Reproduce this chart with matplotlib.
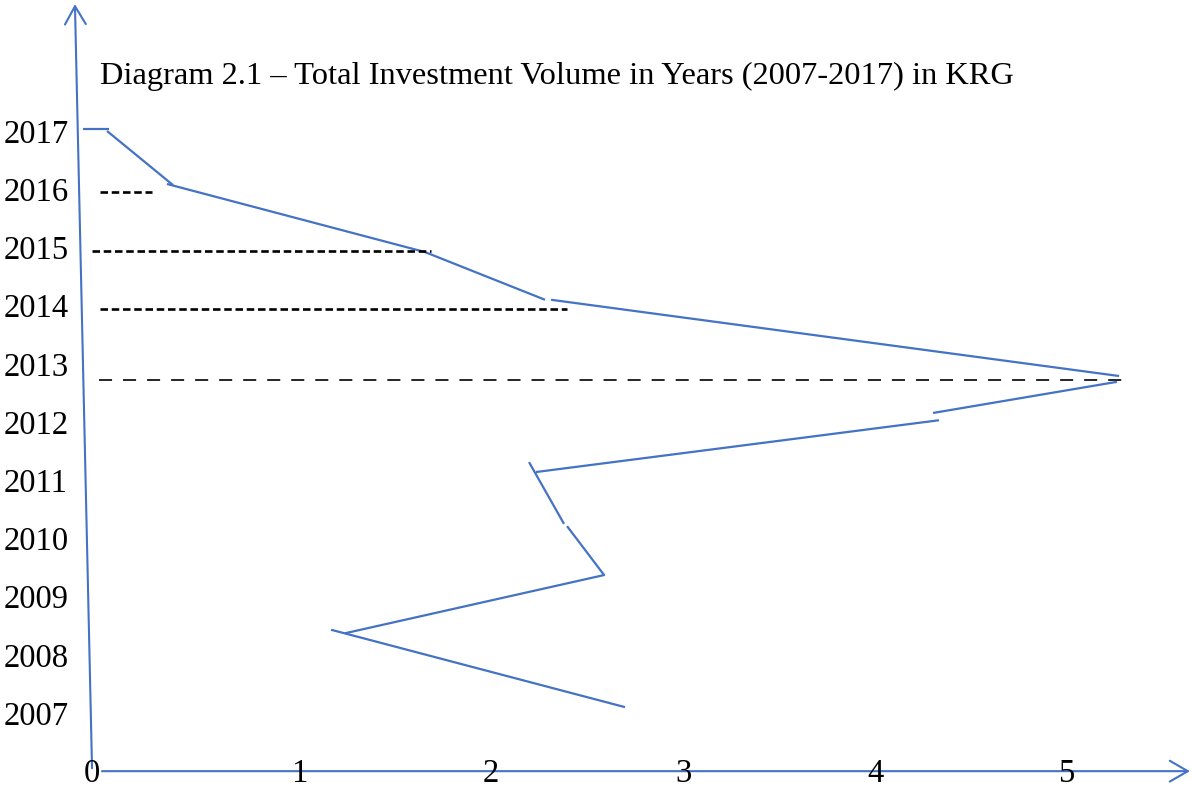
import matplotlib
matplotlib.use("Agg")
import matplotlib.pyplot as plt

# ---- data ----
title = "Diagram 2.1 \u2013 Total Investment Volume in Years (2007-2017) in KRG"
years = [2017, 2016, 2015, 2014, 2013, 2012, 2011, 2010, 2009, 2008, 2007]
x_ticks = [1, 2, 3, 4, 5]
x_tick_labels = ["1", "2", "3", "4", "5"]

# hand-drawn polyline pieces (investment volume, year position)
piece_values = [
    [-0.125, 0.010],
    [0.000, 0.344],
    [0.3125, 1.656, 2.281],
    [2.3125, 5.271],
    [5.260, 4.302],
    [4.333, 2.234],
    [2.198, 2.380],
    [2.396, 2.589, 1.240],
    [1.167, 2.698],
]
piece_years = [
    [2017.03, 2017.03],
    [2017.00, 2016.07],
    [2016.09, 2014.92, 2014.10],
    [2014.10, 2012.79],
    [2012.69, 2012.155],
    [2012.03, 2011.14],
    [2011.31, 2010.25],
    [2010.21, 2009.37, 2008.37],
    [2008.43, 2007.10],
]

# dashed guide lines (year position, start value, end value)
hyphen_years = [2015.95, 2014.94, 2013.94]
hyphen_start = [-0.036, -0.078, -0.036]
hyphen_end = [0.234, 1.6875, 2.396]
long_dash_year = 2012.72
long_dash_start = -0.042
long_dash_end = 5.286

# axes extents
origin_year = 2006.0
yaxis_bottom = (-0.078, 2006.05)
yaxis_top = (-0.167, 2019.18)
xaxis_start = -0.026
xaxis_end = 5.64

plt.rcParams['lines.scale_dashes'] = False
serif = ['Liberation Serif', 'DejaVu Serif']
blue = '#4472C4'

fig = plt.figure(figsize=(11.93, 7.87), dpi=100)
ax = fig.add_axes([0, 0, 1, 1])
ax.set_xlim(-0.5573, 5.656)
ax.set_ylim(2005.728, 2019.251)
ax.axis('off')

# axes arrows
arrow_kw = dict(arrowstyle='->,head_length=1.3,head_width=0.75', color=blue, lw=1.5,
                mutation_scale=10, shrinkA=0, shrinkB=0)
ax.annotate('', xy=yaxis_top, xytext=yaxis_bottom, arrowprops=arrow_kw)
ax.annotate('', xy=(xaxis_end, origin_year), xytext=(xaxis_start, origin_year), arrowprops=arrow_kw)

# polyline
for xs, ys in zip(piece_values, piece_years):
    ax.plot(xs, ys, color=blue, lw=1.6, solid_capstyle='butt')

# hyphen dashed lines
for y, s, e in zip(hyphen_years, hyphen_start, hyphen_end):
    ax.plot([s, e], [y, y], color='black', lw=1.9, linestyle=(0, (5.4, 2.7)),
            dash_capstyle='butt')
ax.plot([long_dash_start, long_dash_end], [long_dash_year, long_dash_year], color='black',
        lw=1.2, linestyle=(0, (9.4, 7.9)), dash_capstyle='butt')

# year labels
for yr in years:
    ax.text(0.003, yr, str(yr), transform=ax.get_yaxis_transform(), ha='left',
            va='center_baseline', fontsize=23.5, family=serif)

# x tick labels
for xv, lab in zip(x_ticks, x_tick_labels):
    ax.text(xv, origin_year + 0.02, lab, ha='center', va='center_baseline', fontsize=23.5, family=serif)
ax.text(yaxis_bottom[0], origin_year + 0.02, "0", ha='center', va='center_baseline', fontsize=23.5, family=serif)

# title
ax.text(-0.036, 2018.0, title, ha='left', va='center_baseline', fontsize=23.4, family=serif)

fig.savefig('out.png', dpi=100)
